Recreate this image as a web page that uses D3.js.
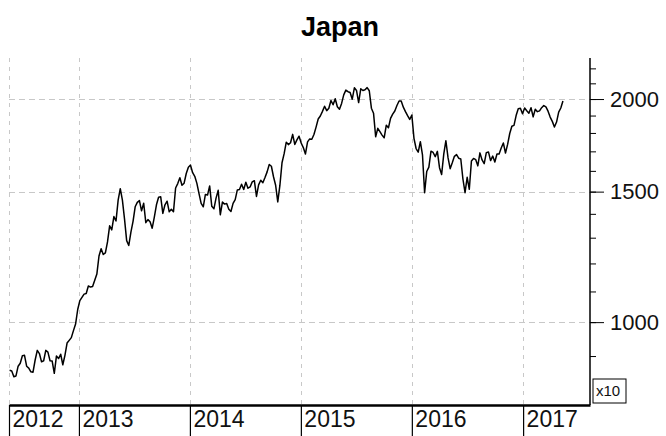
<!DOCTYPE html>
<html>
<head>
<meta charset="utf-8">
<script src="https://cdn.jsdelivr.net/npm/d3@7"></script>
<style>
  body { margin: 0; background: #fff; }
  svg { display: block; font-family: "Liberation Sans", Arial, sans-serif; }
</style>
</head>
<body>
<svg id="chart" width="666" height="436"></svg>
<script>
// weekly closes (Nikkei 225 / 10), first week ending 2012-05-18
const firstWeek = "2012-05-18";
const closes2012 = [861, 859, 844, 846, 872, 880, 901, 902, 872, 867, 857, 856, 889, 916, 907, 884, 887, 916, 911, 887, 886, 853, 900, 893, 905, 876, 902, 937, 945, 953, 974, 994, 1040];
const closes2013 = [1069, 1080, 1091, 1093, 1119, 1115, 1117, 1139, 1161, 1228, 1256, 1234, 1240, 1283, 1349, 1332, 1388, 1369, 1461, 1514, 1461, 1377, 1288, 1269, 1323, 1368, 1431, 1451, 1459, 1413, 1447, 1362, 1375, 1366, 1339, 1386, 1440, 1474, 1476, 1402, 1440, 1456, 1409, 1420, 1409, 1517, 1538, 1566, 1530, 1540, 1587, 1618];
const closes2014 = [1629, 1591, 1573, 1539, 1491, 1446, 1431, 1487, 1484, 1527, 1433, 1422, 1470, 1506, 1396, 1452, 1443, 1446, 1420, 1410, 1446, 1463, 1508, 1510, 1535, 1510, 1544, 1516, 1522, 1546, 1552, 1478, 1532, 1554, 1542, 1567, 1595, 1632, 1623, 1571, 1530, 1453, 1529, 1641, 1688, 1749, 1736, 1746, 1792, 1737, 1762, 1782];
const closes2015 = [1745, 1720, 1686, 1751, 1767, 1765, 1791, 1833, 1880, 1897, 1925, 1956, 1929, 1944, 1991, 1965, 2002, 1953, 1938, 1973, 2026, 2056, 2046, 2041, 1999, 2071, 2054, 1978, 2065, 2054, 2059, 2072, 2052, 1944, 1914, 1779, 1826, 1807, 1788, 1773, 1844, 1829, 1883, 1908, 1927, 1960, 1988, 1988, 1950, 1923, 1899, 1877];
const closes2016 = [1903, 1770, 1715, 1696, 1752, 1682, 1495, 1597, 1619, 1701, 1694, 1672, 1700, 1616, 1582, 1685, 1757, 1667, 1611, 1641, 1674, 1683, 1664, 1660, 1560, 1495, 1568, 1511, 1650, 1663, 1657, 1625, 1692, 1655, 1636, 1693, 1697, 1652, 1675, 1645, 1686, 1686, 1718, 1745, 1691, 1737, 1797, 1838, 1843, 1900, 1940, 1943, 1911];
const closes2017 = [1945, 1929, 1914, 1947, 1892, 1938, 1923, 1928, 1947, 1960, 1952, 1926, 1891, 1866, 1834, 1862, 1920, 1945, 1988];

const yearStarts = ["2013-01-01", "2014-01-01", "2015-01-01", "2016-01-01", "2017-01-01"];
const majorTicks = [1000, 1500, 2000];
const minorTicks = [900, 1000, 1100, 1200, 1300, 1400, 1500, 1600, 1700, 1800, 1900, 2000, 2100, 2200];
const scaleNote = "x10";
const title = "Japan";

const parse = d3.timeParse("%Y-%m-%d");
const values = [].concat(closes2012, closes2013, closes2014, closes2015, closes2016, closes2017);
const start = parse(firstWeek);
const data = values.map((v, i) => ({ date: d3.timeWeek.offset(start, i), value: v }));

const svg = d3.select("#chart");
const plotLeft = 9, plotRight = 590, plotTop = 58, plotBottom = 405;

const x = d3.scaleTime()
    .domain([parse("2012-05-16"), parse("2017-08-09")])
    .range([plotLeft, plotRight]);
const y = d3.scaleLog()
    .domain([773, 2272])
    .range([plotBottom, plotTop]);

const xTicks = [x.domain()[0]].concat(yearStarts.map(parse));

// grid
const grid = svg.append("g")
    .attr("stroke", "#c8c8c8")
    .attr("stroke-width", 1);
grid.selectAll("line.v").data(xTicks).join("line")
    .attr("class", "v")
    .attr("stroke-dasharray", "4,5")
    .attr("x1", d => Math.round(x(d)) + 0.5).attr("x2", d => Math.round(x(d)) + 0.5)
    .attr("y1", plotTop).attr("y2", plotBottom);
grid.selectAll("line.h").data(majorTicks).join("line")
    .attr("class", "h")
    .attr("stroke-dasharray", "6,4")
    .attr("x1", plotLeft).attr("x2", plotRight)
    .attr("y1", d => Math.round(y(d)) + 0.5).attr("y2", d => Math.round(y(d)) + 0.5);

// series
svg.append("path")
    .datum(data)
    .attr("fill", "none")
    .attr("stroke", "#000")
    .attr("stroke-width", 1.5)
    .attr("stroke-linejoin", "round")
    .attr("d", d3.line().x(d => x(d.date)).y(d => y(d.value)));

// bottom axis
const xAxis = svg.append("g")
    .attr("transform", `translate(0,${plotBottom})`)
    .call(d3.axisBottom(x)
        .tickValues(xTicks)
        .tickSize(31)
        .tickSizeOuter(0)
        .tickFormat(d3.timeFormat("%Y")));
xAxis.select(".domain").attr("stroke-width", 2.5);
xAxis.selectAll(".tick line").attr("stroke-width", 1.2);
xAxis.selectAll(".tick text")
    .attr("text-anchor", "start")
    .attr("x", 3)
    .attr("y", 6)
    .attr("dy", "0.71em")
    .attr("fill", "#111")
    .style("font-size", "23px")
    .style("font-family", "Liberation Sans, Arial, sans-serif");

// right axis
const yMinor = svg.append("g")
    .attr("transform", `translate(${plotRight},0)`)
    .call(d3.axisRight(y).tickValues(minorTicks).tickSize(6).tickSizeOuter(0).tickFormat(""));
yMinor.select(".domain").attr("d", `M0,${plotTop}V${plotBottom}`).attr("stroke-width", 1.5);

const yAxis = svg.append("g")
    .attr("transform", `translate(${plotRight},0)`)
    .call(d3.axisRight(y).tickValues(majorTicks).tickSize(14).tickPadding(6).tickFormat(d3.format("d")));
yAxis.select(".domain").remove();
yAxis.selectAll(".tick text")
    .attr("fill", "#111")
    .style("font-size", "22px")
    .style("font-family", "Liberation Sans, Arial, sans-serif");

// scale note box
const note = svg.append("g").attr("transform", `translate(${plotRight + 3},${plotBottom - 26})`);
note.append("rect")
    .attr("width", 33).attr("height", 24)
    .attr("fill", "#fff").attr("stroke", "#000").attr("stroke-width", 1);
note.append("text")
    .attr("x", 3).attr("y", 17)
    .style("font-size", "15px")
    .attr("fill", "#111")
    .text(scaleNote);

// title
svg.append("text")
    .attr("x", 340).attr("y", 36)
    .attr("text-anchor", "middle")
    .style("font-size", "27px")
    .style("font-weight", "bold")
    .text(title);
</script>
</body>
</html>
